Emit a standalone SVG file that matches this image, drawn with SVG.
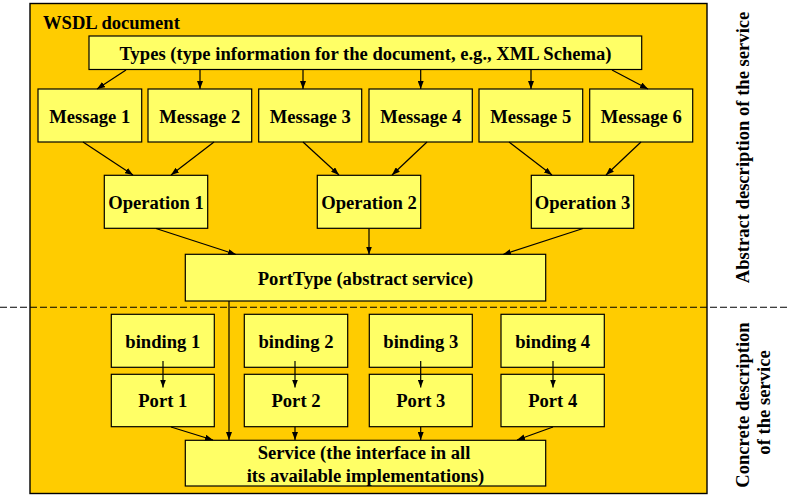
<svg xmlns="http://www.w3.org/2000/svg" width="797" height="501" viewBox="0 0 797 501">
<defs>
<marker id="ah" markerWidth="8" markerHeight="6" refX="8" refY="3" orient="auto" markerUnits="userSpaceOnUse">
<path d="M0,0 L8,3 L0,6 Z" fill="#000"/>
</marker>
<style>
.box{fill:#FFFF66;stroke:#000;stroke-width:1.2}
.t{font-family:"Liberation Serif","Times New Roman",serif;font-weight:bold;font-size:18.6px;fill:#000;text-anchor:middle}
.c{stroke:#000;stroke-width:1.2;fill:none;marker-end:url(#ah)}
</style>
</defs>
<rect x="0" y="0" width="797" height="501" fill="#fff"/>
<g id="wsdl-document">
<rect x="30" y="3.5" width="677" height="490" fill="#FFCC00" stroke="#000" stroke-width="1.4"/>
<text class="t" x="43" y="29" style="text-anchor:start">WSDL document</text>
</g>
<line x1="0" y1="307.3" x2="790" y2="307.3" stroke="#000" stroke-width="1.1" stroke-dasharray="7,3"/>
<g id="types"><rect class="box" x="89" y="36" width="552.7" height="33.5"/><text class="t" x="365.5" y="60">Types (type information for the document, e.g., XML Schema)</text></g>
<g id="message1"><rect class="box" x="38" y="89" width="103.7" height="53"/><text class="t" x="89.8" y="122.5">Message 1</text></g>
<g id="message2"><rect class="box" x="148" y="89" width="103.7" height="53"/><text class="t" x="199.8" y="122.5">Message 2</text></g>
<g id="message3"><rect class="box" x="258.7" y="89" width="103" height="53"/><text class="t" x="310.2" y="122.5">Message 3</text></g>
<g id="message4"><rect class="box" x="369" y="89" width="103.3" height="53"/><text class="t" x="420.7" y="122.5">Message 4</text></g>
<g id="message5"><rect class="box" x="479" y="89" width="103.7" height="53"/><text class="t" x="530.8" y="122.5">Message 5</text></g>
<g id="message6"><rect class="box" x="589.7" y="89" width="103" height="53"/><text class="t" x="641.2" y="122.5">Message 6</text></g>
<g id="operation1"><rect class="box" x="104.3" y="175.3" width="103.4" height="53"/><text class="t" x="156" y="209">Operation 1</text></g>
<g id="operation2"><rect class="box" x="317.3" y="175.3" width="103.4" height="53"/><text class="t" x="369" y="209">Operation 2</text></g>
<g id="operation3"><rect class="box" x="531.3" y="175.3" width="102.4" height="53"/><text class="t" x="582.5" y="209">Operation 3</text></g>
<g id="porttype"><rect class="box" x="185.3" y="254.3" width="360.4" height="46.7"/><text class="t" x="365.5" y="285">PortType (abstract service)</text></g>
<g id="binding1"><rect class="box" x="111.3" y="314.3" width="103" height="53"/><text class="t" x="162.8" y="348.3">binding 1</text></g>
<g id="binding2"><rect class="box" x="244.3" y="314.3" width="103.4" height="53"/><text class="t" x="296" y="348.3">binding 2</text></g>
<g id="binding3"><rect class="box" x="369.3" y="314.3" width="103" height="53"/><text class="t" x="420.8" y="348.3">binding 3</text></g>
<g id="binding4"><rect class="box" x="501" y="314.3" width="103.3" height="53"/><text class="t" x="552.7" y="348.3">binding 4</text></g>
<g id="port1"><rect class="box" x="111.3" y="374.3" width="103" height="52.4"/><text class="t" x="162.8" y="406.7">Port 1</text></g>
<g id="port2"><rect class="box" x="244.3" y="374.3" width="103.4" height="52.4"/><text class="t" x="296" y="406.7">Port 2</text></g>
<g id="port3"><rect class="box" x="369.3" y="374.3" width="103" height="52.4"/><text class="t" x="420.8" y="406.7">Port 3</text></g>
<g id="port4"><rect class="box" x="501" y="374.3" width="103.3" height="52.4"/><text class="t" x="552.7" y="406.7">Port 4</text></g>
<g id="service"><rect class="box" x="185.3" y="440.3" width="360.4" height="45.7"/><text class="t" x="364" y="459">Service (the interface in all</text><text class="t" x="365.5" y="481.5">its available implementations)</text></g>
<g id="connectors">
<line class="c" x1="126" y1="70" x2="97" y2="89"/>
<line class="c" x1="200" y1="70" x2="200" y2="89"/>
<line class="c" x1="303" y1="70" x2="303" y2="89"/>
<line class="c" x1="420.7" y1="70" x2="420.7" y2="89"/>
<line class="c" x1="531" y1="70" x2="531" y2="89"/>
<line class="c" x1="612" y1="70" x2="648" y2="89"/>
<line class="c" x1="83" y1="142" x2="133" y2="175"/>
<line class="c" x1="214" y1="142" x2="171" y2="175"/>
<line class="c" x1="303" y1="142" x2="339" y2="175"/>
<line class="c" x1="427" y1="142" x2="392" y2="175"/>
<line class="c" x1="509" y1="142" x2="552" y2="175"/>
<line class="c" x1="641" y1="142" x2="606" y2="175"/>
<line class="c" x1="156" y1="228.5" x2="236" y2="254.5"/>
<line class="c" x1="369" y1="228.5" x2="369" y2="254.5"/>
<line class="c" x1="583" y1="228.5" x2="503" y2="254.5"/>
<line class="c" x1="229" y1="301" x2="229" y2="440"/>
<line class="c" x1="163" y1="361" x2="163" y2="387.5"/>
<line class="c" x1="295" y1="361" x2="295" y2="387.5"/>
<line class="c" x1="420.7" y1="361" x2="420.7" y2="387.5"/>
<line class="c" x1="553" y1="361" x2="553" y2="387.5"/>
<line class="c" x1="171" y1="427" x2="213" y2="440"/>
<line class="c" x1="295" y1="427" x2="295" y2="440"/>
<line class="c" x1="420.7" y1="427" x2="420.7" y2="440"/>
<line class="c" x1="553" y1="427" x2="517" y2="440"/>
</g>
<g id="side-labels">
<text class="t" transform="translate(749,147.5) rotate(-90)">Abstract description of the service</text>
<text class="t" transform="translate(748.5,405) rotate(-90)">Concrete description</text>
<text class="t" transform="translate(769.5,402.5) rotate(-90)">of the service</text>
</g>
</svg>
